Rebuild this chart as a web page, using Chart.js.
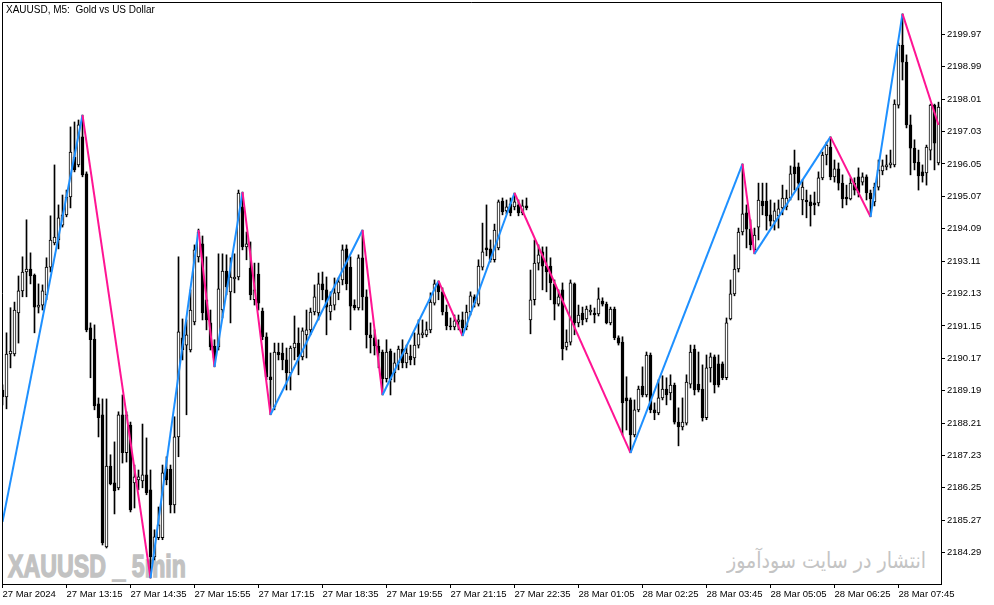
<!DOCTYPE html>
<html>
<head>
<meta charset="utf-8">
<title>XAUUSD M5</title>
<script src="https://cdn.jsdelivr.net/npm/chart.js@4.4.1/dist/chart.umd.min.js"></script>
<style>
  html, body { margin: 0; padding: 0; background: #fff; }
  #wrap { position: relative; width: 994px; height: 605px; overflow: hidden; background: #fff; }
  #wrap canvas { position: absolute; left: 0; top: 0; z-index: 2; }
  .note { position: absolute; white-space: pre; pointer-events: none; line-height: 1; z-index: 1; }
  #title { left: 6px; top: 5px; font-size: 10px; font-family: "Liberation Sans", Arial, sans-serif; color: #000; z-index: 3; }
  #mark { left: 8px; top: 550px; font-size: 32px; font-weight: bold; font-family: "Liberation Sans", Arial, sans-serif; color: #c2c2c2; -webkit-text-stroke: 1.4px #c2c2c2; transform-origin: 0 0; }
  #site { left: 727px; top: 550px; font-size: 22px; font-family: "DejaVu Sans", sans-serif; color: #c4c4c4; direction: rtl; transform-origin: 0 0; }
</style>
</head>
<body>
<div id="wrap">
  <div class="note" id="mark">XAUUSD _ 5min</div>
  <div class="note" id="site">انتشار در سایت سودآموز</div>
  <canvas id="chart" width="994" height="605"></canvas>
  <div class="note" id="title">XAUUSD, M5:  Gold vs US Dollar</div>
</div>
<script>
'use strict';

// M5 bars, oldest first (bar index 0..234)
var openPrices = [
  2189.21, 2189.00, 2190.30, 2190.30, 2191.54, 2192.21, 2192.78, 2192.87, 2192.69, 2191.72,
  2191.78, 2192.09, 2192.93, 2193.66, 2193.75, 2194.20, 2194.51, 2195.05, 2196.26, 2196.02,
  2196.87, 2195.75, 2191.09, 2190.75, 2188.79, 2188.46, 2184.46, 2186.91, 2186.40, 2186.25,
  2188.46, 2187.31, 2188.15, 2186.40, 2186.49, 2186.46, 2186.64, 2186.19, 2184.16, 2184.74,
  2184.74, 2186.82, 2186.82, 2185.73, 2187.79, 2190.79, 2190.57, 2190.42, 2191.27, 2193.24,
  2193.63, 2191.94, 2191.24, 2190.54, 2190.51, 2191.63, 2192.81, 2192.18, 2192.57, 2192.63,
  2194.75, 2193.54, 2192.90, 2191.94, 2192.72, 2191.60, 2190.82, 2189.61, 2188.70, 2190.36,
  2190.33, 2190.12, 2189.73, 2190.48, 2190.63, 2190.21, 2190.88, 2191.03, 2191.57, 2191.54,
  2192.42, 2192.24, 2191.57, 2191.78, 2192.15, 2192.54, 2193.48, 2192.93, 2191.78, 2191.69,
  2193.21, 2192.03, 2190.88, 2190.79, 2190.54, 2190.36, 2189.55, 2190.39, 2189.73, 2190.03,
  2190.45, 2190.03, 2190.24, 2190.18, 2190.57, 2190.88, 2190.88, 2191.03, 2191.84, 2192.45,
  2192.18, 2191.57, 2191.15, 2191.12, 2191.27, 2191.33, 2191.12, 2191.57, 2192.03, 2191.81,
  2192.93, 2193.51, 2193.48, 2193.15, 2193.51, 2194.93, 2194.63, 2194.84, 2194.75, 2194.81,
  2194.57, 2194.78, 2191.33, 2191.94, 2193.05, 2193.39, 2192.96, 2192.96, 2192.42, 2191.81,
  2192.24, 2190.51, 2190.66, 2192.42, 2191.24, 2191.54, 2191.36, 2191.57, 2191.54, 2191.51,
  2191.90, 2191.81, 2191.24, 2191.66, 2190.79, 2190.66, 2188.97, 2188.91, 2187.85, 2188.61,
  2189.33, 2189.06, 2190.27, 2188.61, 2188.52, 2188.97, 2189.24, 2189.12, 2189.36, 2188.24,
  2188.09, 2188.21, 2189.39, 2190.45, 2189.39, 2189.24, 2188.37, 2189.88, 2190.21, 2190.00,
  2190.00, 2189.58, 2191.36, 2192.12, 2192.87, 2193.99, 2194.57, 2194.08, 2193.45, 2194.14,
  2194.93, 2194.93, 2194.51, 2194.32, 2194.48, 2194.72, 2194.75, 2195.02, 2195.96, 2195.96,
  2194.96, 2194.96, 2194.90, 2194.87, 2194.87, 2195.63, 2196.32, 2196.56, 2195.66, 2195.90,
  2195.47, 2195.05, 2194.99, 2195.47, 2195.66, 2195.50, 2195.66, 2195.17, 2194.90, 2195.35,
  2195.84, 2195.96, 2196.02, 2196.02, 2197.83, 2199.65, 2199.13, 2197.23, 2196.53, 2196.11,
  2195.81, 2195.78, 2196.47, 2197.83, 2196.08
];
var highPrices = [
  2189.37, 2190.94, 2191.70, 2191.87, 2192.66, 2193.24, 2194.36, 2193.36, 2192.72, 2192.42,
  2192.39, 2193.21, 2194.48, 2196.02, 2194.81, 2195.11, 2195.26, 2197.17, 2197.32, 2197.38,
  2197.53, 2195.81, 2191.24, 2191.18, 2188.97, 2188.94, 2188.94, 2187.25, 2187.64, 2188.55,
  2189.06, 2188.55, 2188.24, 2186.94, 2186.79, 2188.18, 2187.76, 2186.79, 2184.98, 2185.67,
  2186.94, 2187.19, 2186.94, 2188.40, 2193.24, 2191.36, 2191.33, 2192.24, 2193.60, 2194.08,
  2193.87, 2193.24, 2191.63, 2190.73, 2193.33, 2193.33, 2193.30, 2193.21, 2193.33, 2195.26,
  2195.20, 2193.99, 2193.69, 2193.05, 2193.05, 2191.69, 2190.94, 2190.33, 2190.63, 2190.63,
  2190.63, 2190.48, 2190.54, 2191.45, 2191.09, 2191.09, 2191.63, 2191.69, 2192.39, 2192.75,
  2192.78, 2192.63, 2192.18, 2192.60, 2192.60, 2193.60, 2193.60, 2193.24, 2191.94, 2193.30,
  2194.05, 2192.24, 2191.24, 2191.03, 2190.73, 2190.42, 2190.73, 2190.45, 2190.33, 2190.54,
  2190.73, 2190.57, 2190.57, 2190.94, 2191.33, 2191.33, 2191.27, 2192.15, 2192.54, 2192.51,
  2192.30, 2191.78, 2191.39, 2191.48, 2191.48, 2191.57, 2191.78, 2192.18, 2192.09, 2193.15,
  2194.26, 2194.81, 2193.75, 2194.23, 2194.96, 2195.02, 2194.96, 2195.02, 2195.17, 2194.96,
  2194.96, 2195.02, 2192.84, 2193.75, 2193.60, 2193.54, 2193.54, 2193.21, 2192.54, 2192.24,
  2192.45, 2191.03, 2192.54, 2192.45, 2191.78, 2191.72, 2191.75, 2191.78, 2191.69, 2192.30,
  2192.00, 2191.87, 2191.72, 2191.72, 2190.85, 2190.82, 2189.61, 2188.97, 2188.91, 2189.33,
  2189.91, 2190.36, 2190.33, 2188.82, 2189.52, 2189.64, 2189.58, 2189.67, 2189.42, 2188.67,
  2188.97, 2189.67, 2190.57, 2190.57, 2190.36, 2189.97, 2190.27, 2190.33, 2190.27, 2190.27,
  2190.06, 2191.39, 2192.54, 2193.30, 2194.11, 2196.05, 2194.81, 2194.36, 2194.11, 2195.47,
  2195.47, 2195.47, 2194.96, 2194.87, 2194.96, 2195.41, 2195.26, 2195.99, 2196.47, 2196.08,
  2195.57, 2195.26, 2195.11, 2195.20, 2195.81, 2196.41, 2196.71, 2196.87, 2196.17, 2196.08,
  2195.72, 2195.41, 2195.63, 2195.63, 2195.93, 2195.78, 2195.72, 2195.26, 2195.47, 2196.17,
  2196.17, 2196.32, 2196.47, 2197.99, 2199.71, 2200.59, 2199.35, 2197.53, 2196.78, 2196.47,
  2196.02, 2196.62, 2197.86, 2197.86, 2197.92
];
var lowPrices = [
  2188.76, 2188.64, 2189.88, 2190.24, 2190.63, 2192.03, 2192.03, 2192.42, 2190.94, 2191.54,
  2191.63, 2191.94, 2192.78, 2193.60, 2193.48, 2194.14, 2194.45, 2194.72, 2195.81, 2195.96,
  2195.66, 2190.97, 2189.58, 2188.61, 2187.79, 2184.52, 2184.43, 2186.34, 2185.46, 2186.19,
  2187.00, 2187.03, 2185.52, 2185.64, 2186.19, 2186.25, 2186.04, 2183.52, 2184.07, 2184.68,
  2184.68, 2186.34, 2185.49, 2185.49, 2187.19, 2190.12, 2188.46, 2190.36, 2191.18, 2193.08,
  2191.33, 2191.03, 2190.42, 2189.91, 2190.42, 2191.39, 2192.09, 2191.24, 2192.15, 2192.54,
  2193.45, 2193.15, 2191.94, 2191.78, 2191.63, 2190.73, 2189.52, 2188.46, 2188.61, 2190.12,
  2189.82, 2189.21, 2189.21, 2190.12, 2189.67, 2190.12, 2190.18, 2190.88, 2191.48, 2191.33,
  2191.94, 2190.88, 2191.33, 2191.63, 2191.94, 2192.39, 2192.24, 2191.03, 2191.63, 2191.63,
  2191.63, 2190.48, 2190.33, 2190.27, 2189.88, 2189.06, 2189.45, 2189.06, 2189.45, 2189.82,
  2189.88, 2189.88, 2189.97, 2189.97, 2190.48, 2190.79, 2190.82, 2190.94, 2191.78, 2191.94,
  2191.48, 2191.03, 2191.03, 2191.03, 2191.03, 2190.85, 2191.03, 2191.48, 2191.72, 2191.75,
  2192.84, 2193.27, 2193.08, 2193.08, 2193.45, 2194.51, 2194.54, 2194.48, 2194.66, 2194.48,
  2194.51, 2194.66, 2190.91, 2191.78, 2192.84, 2192.24, 2192.18, 2191.94, 2191.33, 2191.75,
  2190.12, 2190.42, 2190.57, 2190.88, 2191.12, 2191.18, 2191.27, 2191.48, 2191.24, 2191.45,
  2191.75, 2191.21, 2191.18, 2190.73, 2190.57, 2187.85, 2188.00, 2187.31, 2187.79, 2188.55,
  2189.00, 2189.00, 2188.52, 2188.31, 2188.46, 2188.91, 2188.76, 2188.91, 2188.18, 2187.52,
  2188.00, 2188.15, 2189.27, 2189.06, 2189.15, 2188.27, 2188.31, 2189.45, 2189.12, 2189.30,
  2189.52, 2189.52, 2191.33, 2192.06, 2192.78, 2193.90, 2193.51, 2193.45, 2193.33, 2193.75,
  2194.51, 2194.05, 2194.17, 2194.05, 2194.11, 2194.51, 2194.66, 2194.96, 2195.26, 2194.96,
  2194.51, 2194.42, 2194.17, 2194.51, 2194.78, 2195.57, 2196.02, 2195.57, 2195.50, 2195.26,
  2194.72, 2194.81, 2194.96, 2195.11, 2195.05, 2195.41, 2194.96, 2194.45, 2194.78, 2195.26,
  2195.72, 2195.87, 2195.93, 2195.96, 2197.74, 2198.59, 2197.14, 2195.72, 2195.87, 2195.26,
  2195.50, 2195.41, 2196.17, 2195.87, 2196.02
];
var closePrices = [
  2189.00, 2190.30, 2190.39, 2191.63, 2192.21, 2192.78, 2192.87, 2192.66, 2191.72, 2191.78,
  2192.21, 2192.93, 2193.75, 2193.84, 2194.42, 2194.51, 2195.05, 2196.41, 2195.87, 2197.23,
  2195.72, 2191.03, 2190.73, 2188.73, 2188.37, 2184.58, 2186.91, 2186.37, 2186.16, 2188.46,
  2187.31, 2188.46, 2185.58, 2186.58, 2186.58, 2186.64, 2186.10, 2184.16, 2184.77, 2185.13,
  2186.70, 2186.49, 2185.73, 2187.79, 2190.97, 2190.42, 2190.88, 2191.63, 2193.45, 2193.99,
  2191.54, 2191.33, 2190.51, 2190.18, 2192.27, 2192.81, 2192.33, 2192.63, 2192.63, 2195.17,
  2193.54, 2193.63, 2192.09, 2192.24, 2191.84, 2190.82, 2189.61, 2189.52, 2190.36, 2190.27,
  2190.12, 2189.73, 2190.48, 2190.63, 2190.21, 2191.00, 2191.03, 2191.57, 2192.03, 2192.42,
  2192.24, 2191.72, 2191.78, 2192.15, 2192.48, 2193.45, 2192.42, 2191.75, 2191.69, 2193.21,
  2192.03, 2190.88, 2190.79, 2190.54, 2190.33, 2189.55, 2190.36, 2189.52, 2190.03, 2190.45,
  2190.03, 2190.33, 2190.12, 2190.57, 2190.91, 2190.94, 2191.03, 2191.87, 2192.42, 2192.18,
  2191.57, 2191.15, 2191.12, 2191.30, 2191.33, 2191.09, 2191.57, 2192.06, 2191.84, 2192.96,
  2193.39, 2193.45, 2193.15, 2194.05, 2194.90, 2194.60, 2194.75, 2194.57, 2194.90, 2194.57,
  2194.78, 2194.72, 2191.94, 2193.05, 2193.30, 2192.96, 2192.78, 2192.45, 2191.81, 2192.03,
  2190.45, 2190.66, 2192.45, 2191.24, 2191.48, 2191.33, 2191.66, 2191.63, 2191.48, 2191.97,
  2191.81, 2191.24, 2191.66, 2190.79, 2190.63, 2188.82, 2188.88, 2187.85, 2188.61, 2189.24,
  2189.06, 2190.27, 2188.61, 2188.52, 2188.97, 2189.24, 2189.06, 2189.36, 2188.24, 2188.09,
  2188.24, 2189.45, 2190.36, 2189.21, 2189.21, 2188.37, 2189.88, 2190.21, 2189.36, 2189.36,
  2189.58, 2191.24, 2192.12, 2192.87, 2193.99, 2194.54, 2194.08, 2193.60, 2193.90, 2194.96,
  2194.78, 2194.48, 2194.32, 2194.63, 2194.69, 2195.02, 2195.02, 2195.75, 2195.75, 2195.47,
  2195.35, 2194.90, 2194.78, 2194.81, 2195.63, 2196.32, 2196.62, 2195.66, 2195.90, 2195.47,
  2194.99, 2194.99, 2195.47, 2195.26, 2195.17, 2195.66, 2195.17, 2194.99, 2195.35, 2195.87,
  2195.99, 2196.02, 2196.08, 2197.86, 2199.65, 2199.13, 2197.23, 2196.53, 2196.08, 2195.69,
  2195.69, 2196.56, 2197.83, 2196.68, 2197.77
];

// zigzag turning points (bar index, price)
var zigzagBars = [0, 20, 37, 49, 53, 60, 67, 90, 95, 109, 115, 128, 157, 185, 188, 207, 217, 225, 234];
var zigzagPrices = [2185.22, 2197.53, 2183.52, 2194.05, 2189.91, 2195.20, 2188.46, 2194.05, 2189.06,
  2192.51, 2190.85, 2195.17, 2187.31, 2196.05, 2193.33, 2196.87, 2194.45, 2200.59, 2197.23];

// axis labels
var xTickBars = [0, 16, 32, 48, 64, 80, 96, 112, 128, 144, 160, 176, 192, 208, 224];
var xTickLabels = ['27 Mar 2024', '27 Mar 13:15', '27 Mar 14:35', '27 Mar 15:55', '27 Mar 17:15',
  '27 Mar 18:35', '27 Mar 19:55', '27 Mar 21:15', '27 Mar 22:35', '28 Mar 01:05', '28 Mar 02:25',
  '28 Mar 03:45', '28 Mar 05:05', '28 Mar 06:25', '28 Mar 07:45'];
var yTickValues = [2184.29, 2185.27, 2186.25, 2187.23, 2188.21, 2189.19, 2190.17, 2191.15, 2192.13,
  2193.11, 2194.09, 2195.07, 2196.05, 2197.03, 2198.01, 2198.99, 2199.97];

var upColor = '#1e90ff';
var downColor = '#ff1493';
var axisFont = { family: 'Liberation Sans', size: 9.5 };

// build the candle parts
var wickData = [];
var bodyData = [];
var bodyColors = [];
for (var i = 0; i < openPrices.length; i++) {
  wickData.push({ x: i, y: [lowPrices[i], highPrices[i]] });
  bodyData.push({ x: i, y: [Math.min(openPrices[i], closePrices[i]), Math.max(openPrices[i], closePrices[i])] });
  bodyColors.push(closePrices[i] >= openPrices[i] ? '#ffffff' : '#000000');
}

var zigzagData = [];
for (var j = 0; j < zigzagBars.length; j++) {
  zigzagData.push({ x: zigzagBars[j], y: zigzagPrices[j] });
}

// top and left edge of the plot frame
var framePlugin = {
  id: 'frame',
  afterDraw: function(chart) {
    var a = chart.chartArea;
    var c = chart.ctx;
    c.save();
    c.strokeStyle = '#000';
    c.lineWidth = 1;
    c.beginPath();
    c.moveTo(a.left + 0.5, a.bottom);
    c.lineTo(a.left + 0.5, a.top + 0.5);
    c.lineTo(a.right, a.top + 0.5);
    c.stroke();
    c.restore();
  }
};

var ctx = document.getElementById('chart').getContext('2d');
new Chart(ctx, {
  type: 'bar',
  data: {
    datasets: [
      {
        type: 'line',
        data: zigzagData,
        borderWidth: 2,
        pointRadius: 0,
        fill: false,
        tension: 0,
        order: 0,
        borderColor: upColor,
        segment: {
          borderColor: function(s) { return s.p1.parsed.y > s.p0.parsed.y ? upColor : downColor; }
        }
      },
      {
        data: bodyData,
        backgroundColor: bodyColors,
        borderColor: '#000',
        borderWidth: 1,
        borderSkipped: false,
        barThickness: 3,
        grouped: false,
        order: 1
      },
      {
        data: wickData,
        backgroundColor: '#000',
        borderWidth: 0,
        barThickness: 1,
        grouped: false,
        order: 2
      }
    ]
  },
  options: {
    responsive: false,
    devicePixelRatio: 1,
    animation: false,
    events: [],
    layout: { padding: { left: 2, top: 2, right: 0, bottom: 0 } },
    plugins: {
      legend: { display: false },
      tooltip: { enabled: false }
    },
    scales: {
      x: {
        type: 'linear',
        offset: false,
        min: -0.125,
        max: 234.625,
        afterBuildTicks: function(axis) {
          axis.ticks = xTickBars.map(function(v) { return { value: v }; });
        },
        afterFit: function(axis) {
          axis.height = 21;
          axis.paddingLeft = 0;
          axis.paddingRight = 0;
        },
        grid: { drawOnChartArea: false, drawTicks: true, tickLength: 4, color: '#000', offset: false },
        border: { display: true, color: '#000', width: 1 },
        ticks: {
          autoSkip: false,
          maxRotation: 0,
          minRotation: 0,
          align: 'start',
          padding: 1,
          color: '#000',
          font: axisFont,
          callback: function(v, idx) { return xTickLabels[idx]; }
        }
      },
      y: {
        type: 'linear',
        position: 'right',
        min: 2183.34,
        max: 2200.95,
        afterBuildTicks: function(axis) {
          axis.ticks = yTickValues.map(function(v) { return { value: v }; });
        },
        afterFit: function(axis) {
          axis.width = 53;
          axis.paddingTop = 0;
          axis.paddingBottom = 0;
        },
        grid: { drawOnChartArea: false, drawTicks: true, tickLength: 4, color: '#000' },
        border: { display: true, color: '#000', width: 1 },
        ticks: {
          padding: 2,
          color: '#000',
          font: axisFont,
          callback: function(v) { return v.toFixed(2); }
        }
      }
    }
  },
  plugins: [framePlugin]
});

// squeeze the two watermarks to the width they take in the picture
function fitWidth(id, w) {
  var el = document.getElementById(id);
  var r = el.getBoundingClientRect();
  if (r.width > 0) {
    el.style.transform = 'scaleX(' + (w / r.width) + ')';
  }
}
fitWidth('mark', 178);
fitWidth('site', 199);
</script>
</body>
</html>
